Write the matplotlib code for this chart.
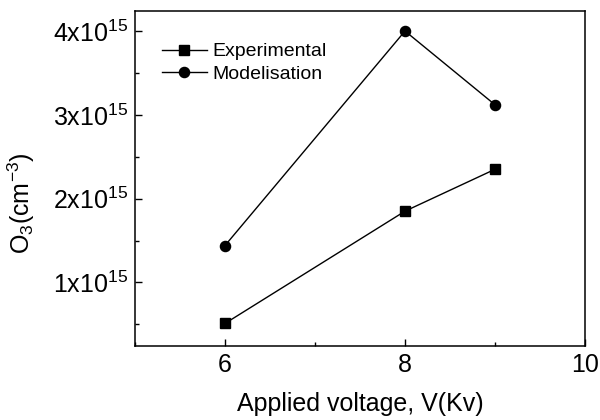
import matplotlib
matplotlib.use("Agg")
import matplotlib.pyplot as plt
from matplotlib.ticker import FixedLocator, MultipleLocator

plt.rcParams['font.family'] = ['Liberation Sans', 'DejaVu Sans']
plt.rcParams['mathtext.fontset'] = 'custom'
plt.rcParams['mathtext.rm'] = 'Liberation Sans'
plt.rcParams['mathtext.it'] = 'Liberation Sans'

voltage = [6, 8, 9]
experimental = [0.51e15, 1.85e15, 2.35e15]
modelisation = [1.44e15, 4.0e15, 3.12e15]
ytick_vals = [1e15, 2e15, 3e15, 4e15]
ytick_labels = ['1x10$^{15}$', '2x10$^{15}$', '3x10$^{15}$', '4x10$^{15}$']
xtick_vals = [6, 8, 10]

fig = plt.figure(figsize=(6, 4.2), dpi=100)
ax = fig.add_axes([0.225, 0.176, 0.75, 0.798])

ax.plot(voltage, experimental, color='black', lw=1.0, marker='s', ms=6.7, label='Experimental')
ax.plot(voltage, modelisation, color='black', lw=1.0, marker='o', ms=7.3, label='Modelisation')

ax.set_xlim(5, 10)
ax.set_ylim(0.24e15, 4.24e15)
ax.xaxis.set_major_locator(FixedLocator(xtick_vals))
ax.xaxis.set_minor_locator(MultipleLocator(1))
ax.set_yticks(ytick_vals)
ax.set_yticklabels(ytick_labels)
ax.yaxis.set_minor_locator(MultipleLocator(0.5e15))

ax.tick_params(which='both', direction='in', top=False, right=False, labelsize=18, width=1, pad=5)
ax.tick_params(which='major', length=5)
ax.tick_params(which='minor', length=3)
for s in ax.spines.values():
    s.set_linewidth(1.1)

ax.set_xlabel('Applied voltage, V(Kv)', fontsize=18, labelpad=11)
ax.set_ylabel('O$_3$(cm$^{-3}$)', fontsize=18)
ax.yaxis.set_label_coords(-0.218, 0.427)

leg = ax.legend(loc='upper left', bbox_to_anchor=(0.06, 0.905), frameon=False,
                fontsize=14, handlelength=2.3, handletextpad=0.3, labelspacing=0.25,
                borderaxespad=0, borderpad=0)

fig.savefig('out.png', dpi=100)
